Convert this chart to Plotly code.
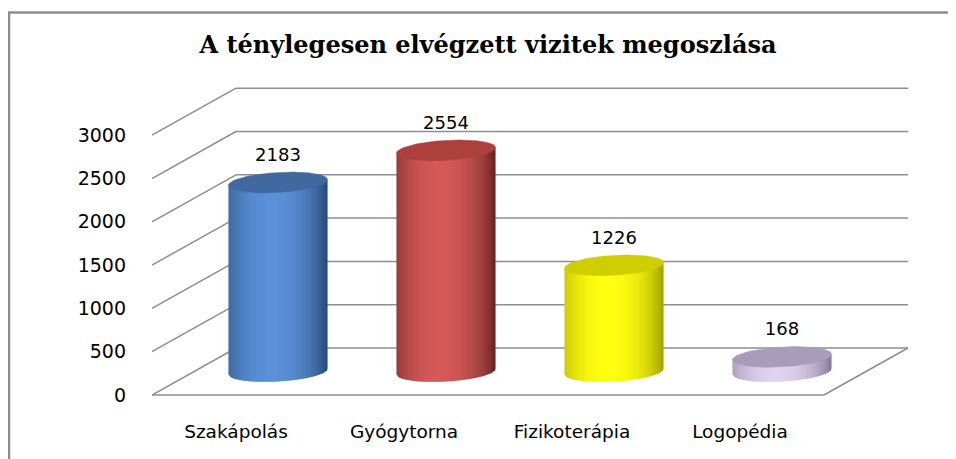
import numpy as np
import plotly.graph_objects as go

# ---------------- data ----------------
categories = ["Szakápolás", "Gyógytorna", "Fizikoterápia", "Logopédia"]
values = [2183, 2554, 1226, 168]
y_ticks = [0, 500, 1000, 1500, 2000, 2500, 3000]
title_text = "A ténylegesen elvégzett vizitek megoszlása"

# ---------------- style ----------------
body_light = ["#5b90d8", "#d45a58", "#ffff10", "#ded4ef"]
body_dark = ["#23446e", "#5e1e1d", "#9a9a00", "#7e7090"]
cap_colors = ["#40699f", "#ad403d", "#cfcf00", "#a99cbb"]
grid_color = "#8e8e8e"
sans = "DejaVu Sans"

DX = 0.5      # depth offset in category units
DY = 543      # depth offset in value units
RX = 0.295    # cylinder half width (category units)
RY = 115      # ellipse half height (value units)
TILT = 110    # perspective tilt of the ellipses (value units per category unit)
BASE = DY / 2
N_STRIPS = 50

fig = go.Figure()

# ---------------- walls / floor lines ----------------
shapes = []
x_left = -0.5
x_right = len(categories) - 0.5
for v in y_ticks:
    shapes.append(dict(type="line", xref="x", yref="y", x0=x_left + DX, x1=x_right + DX,
                       y0=v + DY, y1=v + DY, line=dict(color=grid_color, width=1.5), layer="below"))
    shapes.append(dict(type="line", xref="x", yref="y", x0=x_left, x1=x_left + DX,
                       y0=v, y1=v + DY, line=dict(color=grid_color, width=1.5), layer="below"))
shapes.append(dict(type="line", xref="x", yref="y", x0=x_left, x1=x_right, y0=0, y1=0,
                   line=dict(color=grid_color, width=1.5), layer="below"))
shapes.append(dict(type="line", xref="x", yref="y", x0=x_right, x1=x_right + DX, y0=0, y1=DY,
                   line=dict(color=grid_color, width=1.5), layer="below"))


def hex2rgb(h):
    h = h.lstrip("#")
    return np.array([int(h[i:i + 2], 16) for i in (0, 2, 4)], dtype=float)


def mix(c1, c2, t):
    a, b = hex2rgb(c1), hex2rgb(c2)
    c = a + (b - a) * t
    return "rgb(%d,%d,%d)" % tuple(np.clip(c, 0, 255).round())


# ---------------- cylinders ----------------
for i, (cat, val) in enumerate(zip(categories, values)):
    cx = i + DX / 2
    top = BASE + val
    us = np.linspace(-1, 1, N_STRIPS + 1)
    step = us[1] - us[0]
    for j in range(N_STRIPS):
        u0 = us[j]
        u1 = min(1.0, us[j + 1] + 0.6 * step)
        um = (us[j] + us[j + 1]) / 2
        s = max(0.0, 1 - ((um + 0.12) / 1.12) ** 2) ** 0.75
        col = mix(body_dark[i], body_light[i], s)
        sub = np.linspace(u0, u1, 4)
        xs_b = cx + RX * sub
        ys_b = BASE - RY * np.sqrt(np.clip(1 - sub ** 2, 0, 1)) + TILT * RX * sub
        xs = list(xs_b) + [cx + RX * u1, cx + RX * u0]
        ys = list(ys_b) + [top + TILT * RX * u1, top + TILT * RX * u0]
        fig.add_trace(go.Scatter(x=xs, y=ys, fill="toself", fillcolor=col, mode="lines",
                                 line=dict(color=col, width=0), hoverinfo="skip",
                                 showlegend=False))
    t = np.linspace(0, 2 * np.pi, 90)
    ex = RX * np.cos(t)
    fig.add_trace(go.Scatter(x=cx + ex, y=top + RY * np.sin(t) + TILT * ex, fill="toself",
                             fillcolor=cap_colors[i], mode="lines",
                             line=dict(color=cap_colors[i], width=0.5), hoverinfo="skip",
                             showlegend=False))

# ---------------- data labels ----------------
fig.add_trace(go.Scatter(
    x=[i + DX / 2 for i in range(len(values))],
    y=[BASE + v + 300 for v in values],
    text=[str(v) for v in values], mode="text", textposition="middle center",
    textfont=dict(family=sans, size=18, color="#000000"), hoverinfo="skip", showlegend=False))

# ---------------- chart border (left & top) ----------------
W, H = 956, 459
OFF = 8  # page body margin
L, R, T, B = 152 - OFF, 46 + OFF, 85 - OFF, 62 + OFF
pw, ph = W - L - R, H - T - B


def px2paper_x(px):
    return (px - OFF - L) / pw


def py2paper_y(py):
    return (H - B - (py - OFF)) / ph


shapes.append(dict(type="line", xref="paper", yref="paper", x0=px2paper_x(9), x1=px2paper_x(9),
                   y0=py2paper_y(12.5), y1=py2paper_y(470), line=dict(color="#8c8c8c", width=2.5)))
shapes.append(dict(type="line", xref="paper", yref="paper", x0=px2paper_x(8), x1=px2paper_x(970),
                   y0=py2paper_y(12.5), y1=py2paper_y(12.5), line=dict(color="#8c8c8c", width=2.5)))

fig.update_layout(
    width=W, height=H,
    margin=dict(l=L, r=R, t=T, b=B),
    paper_bgcolor="white", plot_bgcolor="white",
    shapes=shapes,
    title=dict(text="<b>" + title_text + "</b>", x=(488 - OFF) / W, y=1 - (45 - OFF) / H,
               xanchor="center", yanchor="middle",
               font=dict(family="DejaVu Serif", size=24, color="#000000")),
    xaxis=dict(range=[-0.5, 4.012], tickvals=list(range(len(categories))), ticktext=categories,
               showgrid=False, zeroline=False, showline=False, ticks="",
               ticklabelstandoff=21, tickfont=dict(family=sans, size=18.5, color="#000000"),
               fixedrange=True),
    yaxis=dict(range=[-23, 3580], tickvals=y_ticks, showgrid=False, zeroline=False,
               showline=False, ticks="", ticklabelstandoff=25,
               tickfont=dict(family=sans, size=19, color="#000000"), fixedrange=True),
    showlegend=False,
)

fig.write_html("out.html")
